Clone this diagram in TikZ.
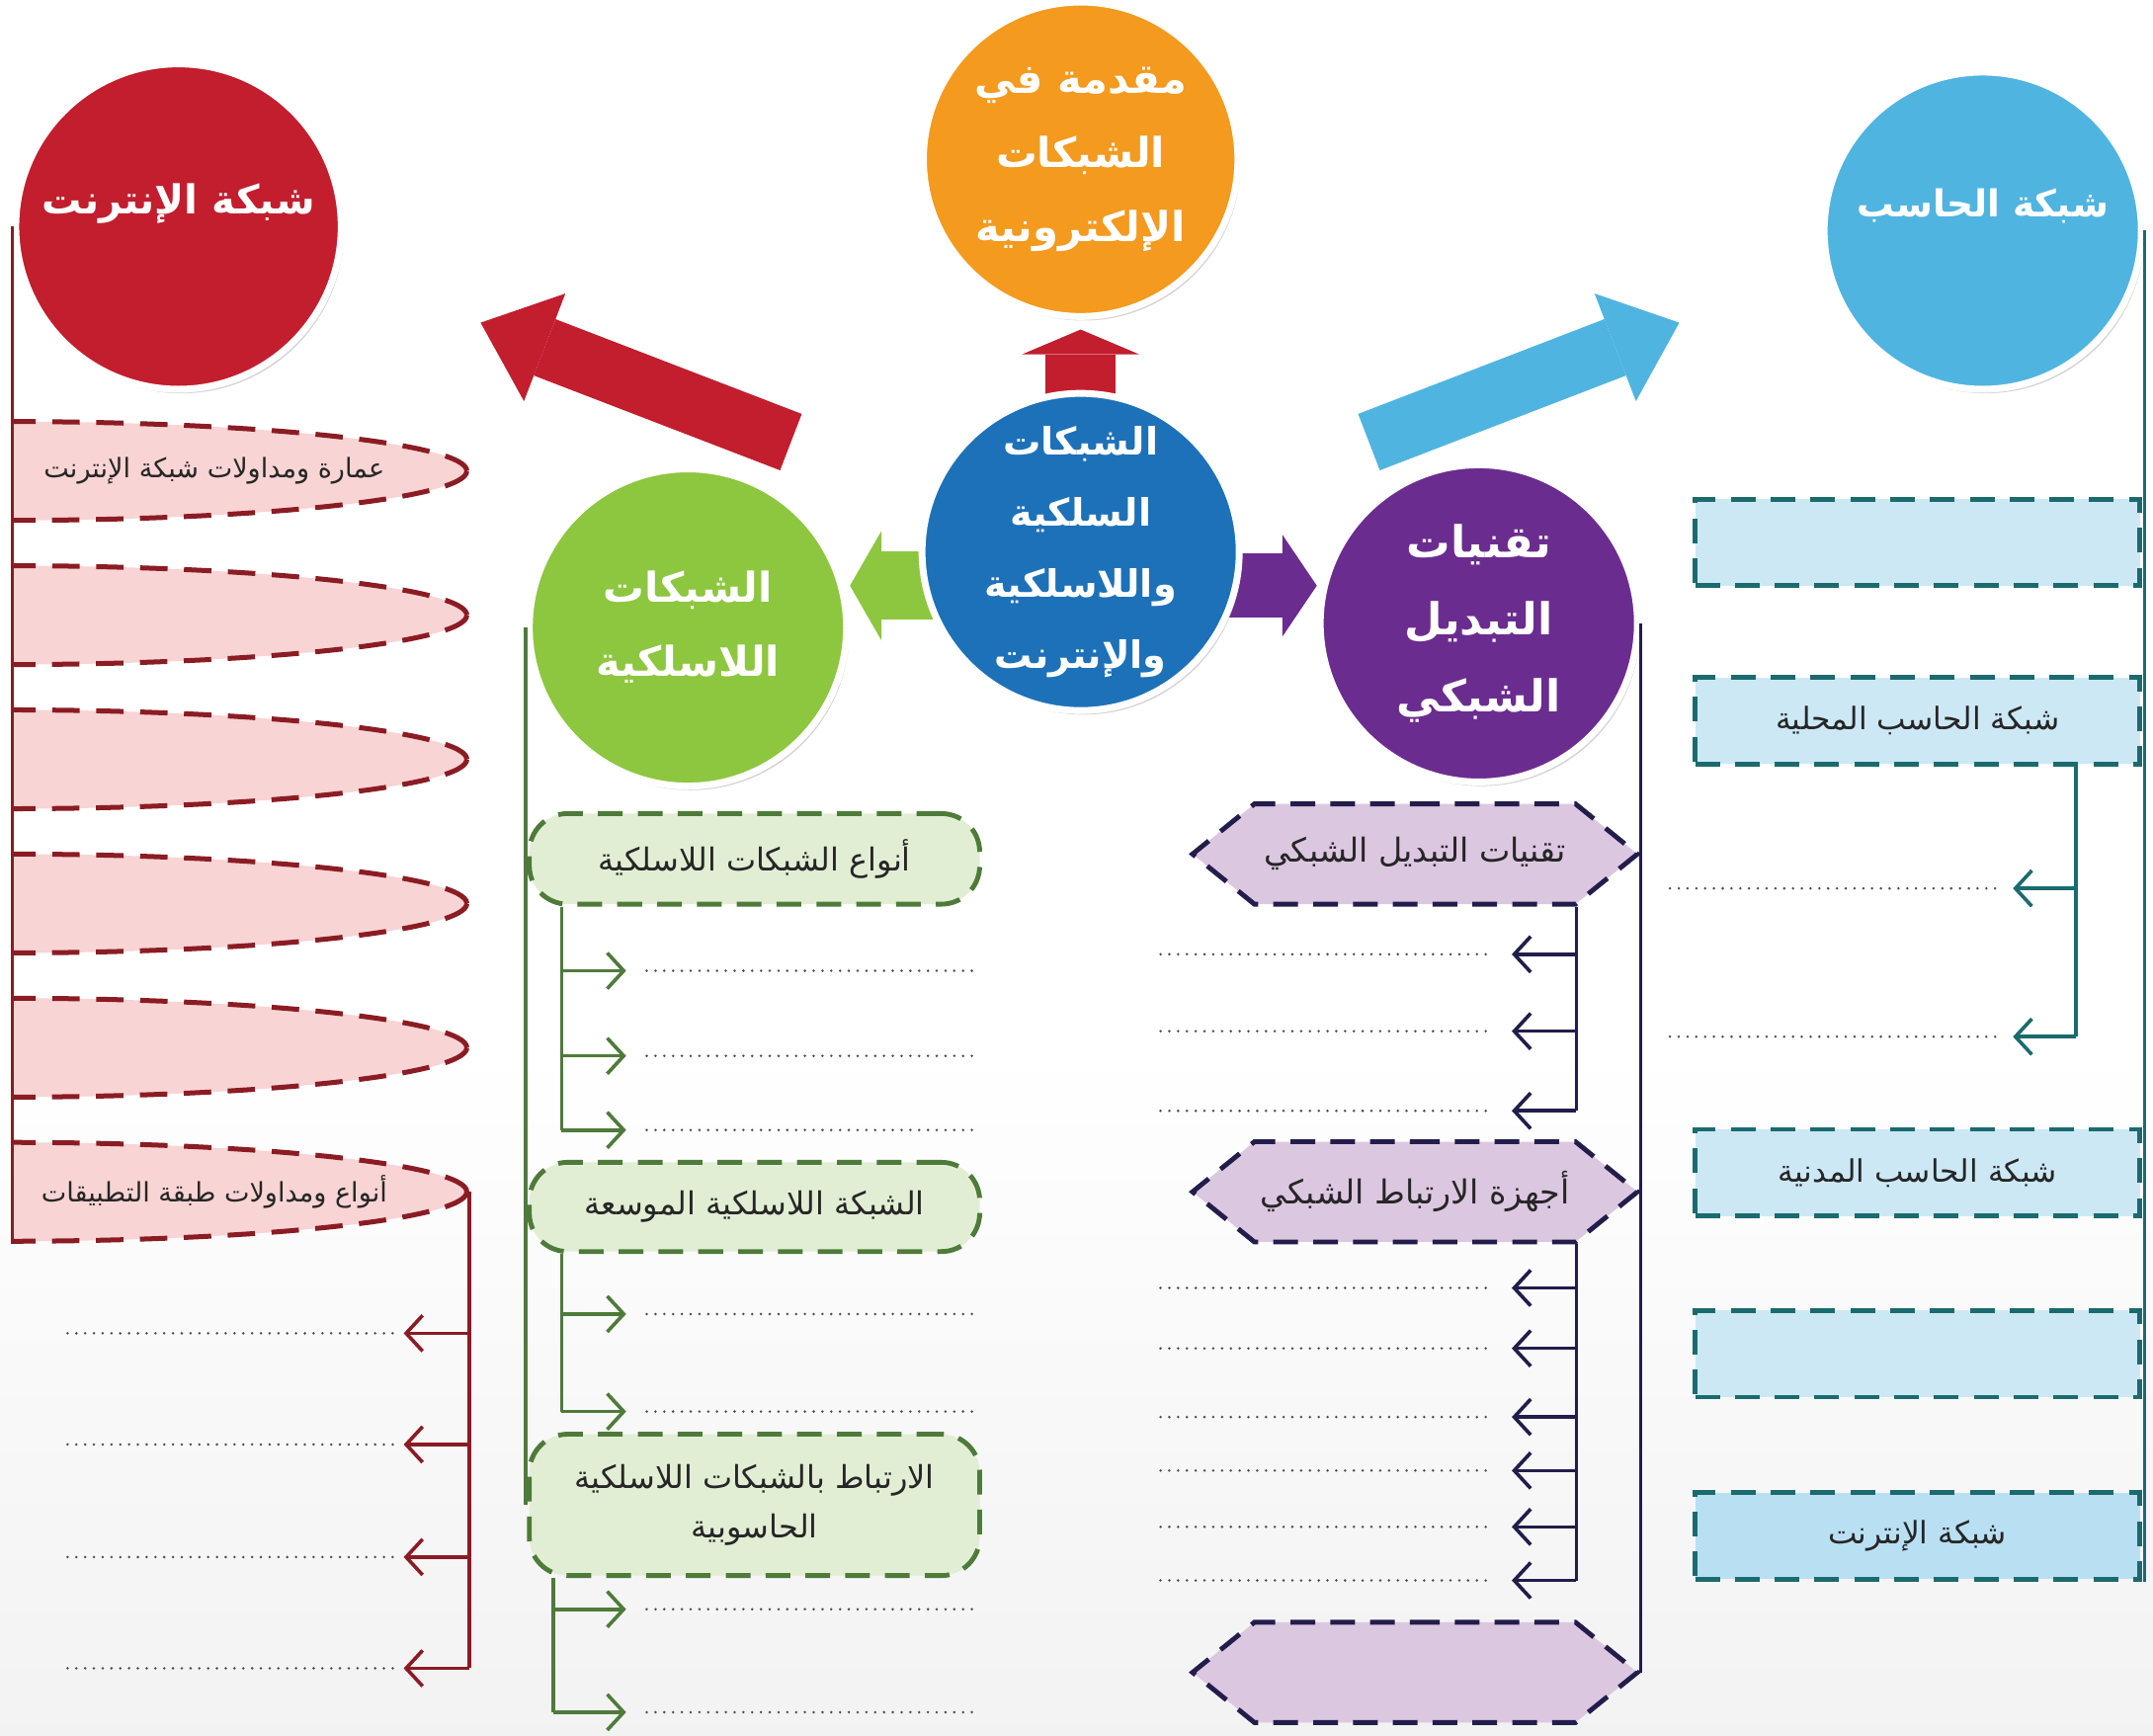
\documentclass[tikz,border=0pt]{standalone}
\usepackage{fontspec}
\usepackage{tikz}
\usetikzlibrary{arrows.meta,shapes.geometric,shapes.symbols,shadows,backgrounds}
\TeXXeTstate=1
\newfontfamily\arabicfont[Script=Arabic]{DejaVu Sans}
\newfontfamily\arabicbold[Script=Arabic]{DejaVu Sans Bold}
\newcommand{\artext}[1]{\beginR #1\endR}

\definecolor{netred}{HTML}{C21E2E}
\definecolor{linered}{HTML}{8B1C24}
\definecolor{pinkfill}{HTML}{F8D4D4}
\definecolor{introorange}{HTML}{F39A1F}
\definecolor{lanblue}{HTML}{50B4E0}
\definecolor{coreblue}{HTML}{1D71B8}
\definecolor{wlgreen}{HTML}{8DC63F}
\definecolor{linegreen}{HTML}{4E7B3A}
\definecolor{greenfill}{HTML}{E1EED4}
\definecolor{techpurple}{HTML}{6B2C8F}
\definecolor{linenavy}{HTML}{221D4B}
\definecolor{lilacfill}{HTML}{DCC7E1}
\definecolor{lineteal}{HTML}{1B6B6E}
\definecolor{skyfill}{HTML}{CCE8F5}

\tikzset{
  topic/.style={circle, draw=white, line width=5pt, inner sep=0pt, text=white, align=center,
    font=\arabicbold\fontsize{30}{54}\selectfont,
    drop shadow={shadow xshift=2pt, shadow yshift=-3pt, opacity=0.35}},
  ellbox/.style={ellipse, draw=linered, fill=pinkfill, line width=3.6pt, dash pattern=on 20pt off 12pt,
    minimum width=670pt, minimum height=72pt, inner sep=0pt},
  elltext/.style={text=black!85, font=\arabicfont\fontsize{19.5}{24}\selectfont},
  greenbox/.style={rectangle, rounded corners=28pt, draw=linegreen, fill=greenfill, line width=3.5pt,
    dash pattern=on 18pt off 11pt, minimum width=328pt, inner sep=0pt, align=center, text=black!85,
    font=\arabicfont\fontsize{23}{36}\selectfont},
  hexbox/.style={signal, signal to=west and east, signal pointer angle=78, draw=linenavy, fill=lilacfill,
    line width=3.5pt, dash pattern=on 18pt off 11pt, minimum width=324pt, minimum height=73pt,
    inner sep=0pt, text=black!85, font=\arabicfont\fontsize{24}{28}\selectfont},
  lanbox/.style={rectangle, draw=lineteal, fill=skyfill, line width=3.5pt, dash pattern=on 18pt off 11pt,
    minimum width=324pt, minimum height=63pt, inner sep=0pt, text=black!85,
    font=\arabicfont\fontsize{22.5}{26}\selectfont},
  redline/.style={draw=linered, line width=2.6pt},
  greenline/.style={draw=linegreen, line width=2.6pt},
  navyline/.style={draw=linenavy, line width=2.6pt},
  tealline/.style={draw=lineteal, line width=2.6pt},
  branch/.style={-{Straight Barb[length=12pt,width=26pt]}},
  blank/.style={draw=black!70, line width=2pt, dash pattern=on 0pt off 6.4pt, line cap=round},
  blockarrow/.style={line width=#1}
}

\begin{document}
\begin{tikzpicture}[x=1pt,y=-1pt]
\useasboundingbox (0,0) rectangle (1568,1264);
\begin{scope}[on background layer]
    \shade[top color=white, bottom color=black!5] (0,760) rectangle (1568,1264);
\end{scope}

% the six topics
\begin{scope}[every node/.style={topic}]
    \node (inet)[fill=netred, minimum size=237pt, text depth=40pt, font=\arabicbold\fontsize{29}{54}\selectfont] at (130,165) {\artext{شبكة الإنترنت}};
    \node (intro)[fill=introorange, minimum size=229pt] at (787,116) {\artext{مقدمة في}\\\artext{الشبكات}\\\artext{الإلكترونية}};
    \node (lan)[fill=lanblue, minimum size=231pt, text depth=40pt, font=\arabicbold\fontsize{27}{54}\selectfont] at (1444,168) {\artext{شبكة الحاسب}};
    \node (core)[fill=coreblue, minimum size=231pt, font=\arabicbold\fontsize{27.5}{52}\selectfont] at (787,402)
        {\artext{الشبكات}\\\artext{السلكية}\\\artext{واللاسلكية}\\\artext{والإنترنت}};
    \node (wl)[fill=wlgreen, minimum size=231pt] at (501,457) {\artext{الشبكات}\\\artext{اللاسلكية}};
    \node (tech)[fill=techpurple, minimum size=231pt, font=\arabicbold\fontsize{32}{56}\selectfont] at (1077,454) {\artext{تقنيات}\\\artext{التبديل}\\\artext{الشبكي}};
\end{scope}

\coordinate (rtail) at (576,322);
\coordinate (rhead) at (350,235);
\coordinate (btail) at (997,322);
\coordinate (bhead) at (1223,235);
\begin{scope}[on background layer]
    \draw[netred, blockarrow=44pt, -{Triangle[length=50pt,width=84pt,line width=0pt]}] (rtail) -- (rhead);
    \draw[lanblue, blockarrow=44pt, -{Triangle[length=50pt,width=84pt,line width=0pt]}] (btail) -- (bhead);
    \draw[netred, blockarrow=51pt, -{Triangle[length=18pt,width=85pt,line width=0pt]}, shorten >=7pt] (core.center) -- (intro.south);
    \draw[wlgreen, blockarrow=50pt, -{Triangle[length=23pt,width=80pt,line width=0pt]}] (core.-168 -| core.center) -- (core.-168 -| wl.east);
    \draw[techpurple, blockarrow=47pt, -{Triangle[length=25pt,width=74pt,line width=0pt]}] (core.-12 -| core.center) -- (core.-12 -| tech.west);
\end{scope}

% internet column
\begin{scope}
    \clip (9,0) rectangle (1568,1264);
    \foreach \y [count=\i] in {343,448,553,658,763,868}
        \node[ellbox] (e\i) at (5,\y) {};
\end{scope}
\node[elltext] (e1t) at (156,343) {\artext{عمارة ومداولات شبكة الإنترنت}};
\node[elltext] (e6t) at (156,868) {\artext{أنواع ومداولات طبقة التطبيقات}};

\draw[redline] (inet.west) -- (inet.west |- e6.south);
\coordinate (rs) at (e6.east);
\foreach \y [count=\i] in {971,1052,1134,1215}{
    \coordinate (rd\i) at (286,\y);
    \coordinate (rf\i) at (45,\y);
    \draw[redline,branch] (rs |- rd\i) -- ([xshift=8pt]rd\i);
    \draw[blank] (rd\i) -- (rf\i);
}
\draw[redline] (rs) -- (rs |- rd4);

% wireless column
\node[greenbox, minimum height=66pt] (gb1) at (549.5,625.5) {\artext{أنواع الشبكات اللاسلكية}};
\node[greenbox, minimum height=65pt] (gb2) at (549.5,879) {\artext{الشبكة اللاسلكية الموسعة}};
\node[greenbox, minimum height=103pt] (gb3) at (549.5,1096) {\artext{الارتباط بالشبكات اللاسلكية}\\\artext{الحاسوبية}};

\draw[greenline] (wl.west) -- (wl.west |- gb3.west);
\coordinate (gs1) at (gb1.south -| 409,0);
\coordinate (gs2) at (gb2.south -| 409,0);
\coordinate (gs3) at (gb3.south -| 403,0);
\foreach \s/\y [count=\i] in {gs1/707,gs1/769,gs1/823,gs2/957,gs2/1028,gs3/1172,gs3/1247}{
    \coordinate (gd\i) at (471,\y);
    \coordinate (gf\i) at (713,\y);
    \draw[greenline,branch] (\s |- gd\i) -- ([xshift=-15pt]gd\i);
    \draw[blank] (gd\i) -- (gf\i);
}
\draw[greenline] (gs1) -- (gs1 |- gd3);
\draw[greenline] (gs2) -- (gs2 |- gd5);
\draw[greenline] (gs3) -- (gs3 |- gd7);

% switching column
\node[hexbox] (hx1) at (1030.5,622) {\artext{تقنيات التبديل الشبكي}};
\node[hexbox] (hx2) at (1030.5,868) {\artext{أجهزة الارتباط الشبكي}};
\node[hexbox] (hx3) at (1030.5,1218) {};

\draw[navyline] (tech.east) -- (tech.east |- hx3.east);
\coordinate (ps1) at (hx1.south -| 1148,0);
\coordinate (ps2) at (hx2.south -| 1148,0);
\foreach \s/\y [count=\i] in {ps1/695,ps1/751,ps1/809,ps2/938,ps2/982,ps2/1032,ps2/1071,ps2/1112,ps2/1151}{
    \coordinate (pd\i) at (1082,\y);
    \coordinate (pf\i) at (842,\y);
    \draw[navyline,branch] (\s |- pd\i) -- ([xshift=19pt]pd\i);
    \draw[blank] (pd\i) -- (pf\i);
}
\draw[navyline] (ps1) -- (ps1 |- pd3);
\draw[navyline] (ps2) -- (ps2 |- pd9);

% computer network column
\node[lanbox] (tr1) at (1396.5,395) {};
\node[lanbox] (tr2) at (1396.5,525) {\artext{شبكة الحاسب المحلية}};
\node[lanbox] (tr3) at (1396.5,854) {\artext{شبكة الحاسب المدنية}};
\node[lanbox] (tr4) at (1396.5,986) {};
\node[lanbox, fill=skyfill!85!lanblue] (tr5) at (1396.5,1118.5) {\artext{شبكة الإنترنت}};

\draw[tealline] (lan.east) -- (lan.east |- tr5.south);
\coordinate (ts) at (tr2.south -| 1512,0);
\foreach \y [count=\i] in {647,755}{
    \coordinate (td\i) at (1453,\y);
    \coordinate (tf\i) at (1213,\y);
    \draw[tealline,branch] (ts |- td\i) -- ([xshift=13pt]td\i);
    \draw[blank] (td\i) -- (tf\i);
}
\draw[tealline] (ts) -- (ts |- td2);
\end{tikzpicture}
\end{document}
